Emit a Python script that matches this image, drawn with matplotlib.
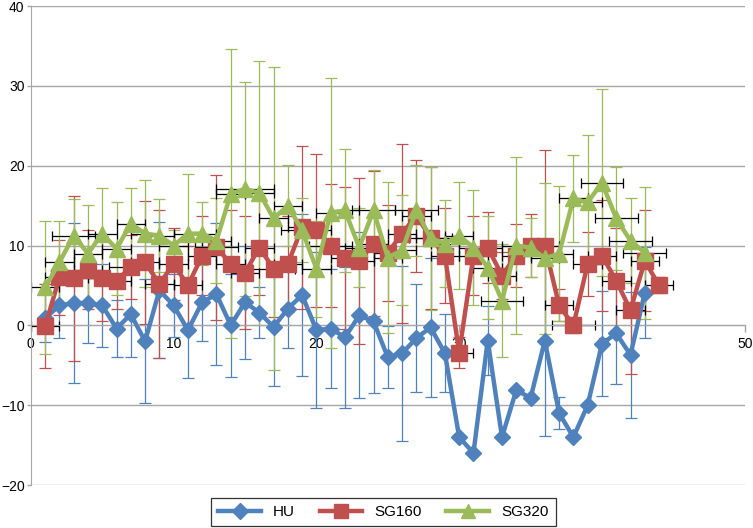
"""Mean values with error bars for HU, SG160 and SG320 (Excel-style chart)."""

import matplotlib

matplotlib.use("Agg")
import matplotlib.pyplot as plt
from matplotlib.lines import Line2D

plt.rcParams["font.family"] = ["Liberation Sans", "DejaVu Sans"]

# HU: points 1..43
HU_X = list(range(1, 44))
HU_Y = [0.9, 2.5, 2.8, 2.8, 2.5, -0.4, 1.4, -2.0, 4.4, 2.5,
        -0.6, 2.9, 3.9, 0.0, 2.9, 1.6, -0.2, 2.1, 3.8, -0.6,
        -0.4, -1.5, 1.25, 0.5, -4.0, -3.5, -1.6, -0.25, -3.5, -14.0,
        -16.0, -1.9, -14.0, -8.1, -9.1, -1.9, -11.0, -14.0, -10.0, -2.3,
        -1.0, -3.7, 4.1]
HU_YERR = [3.0, 4.1, 10.0, 5.0, 5.2, 3.6, 5.4, 7.75, 8.5, 4.0,
           6.0, 4.8, 8.9, 6.5, 7.1, 3.2, 7.4, 4.9, 10.2, 9.8,
           7.5, 8.8, 10.4, 9.0, 3.9, 11.0, 6.8, 8.75, 4.9, 0.0,
           0.0, 4.3, 0.0, 0.0, 0.0, 11.9, 2.0, 0.0, 0.0, 6.6,
           6.3, 7.9, 5.7]

# SG160: points 1..44
SG160_X = list(range(1, 45))
SG160_Y = [-0.1, 6.0, 5.9, 7.0, 5.9, 5.6, 7.3, 7.9, 5.2, 7.7,
           5.0, 8.75, 9.8, 7.7, 6.6, 9.75, 7.1, 7.7, 12.3, 11.9,
           10.0, 8.4, 8.1, 10.25, 9.1, 11.5, 13.75, 11.0, 8.75, -3.4,
           8.75, 9.75, 6.25, 8.75, 10.0, 10.0, 2.5, 0.0, 7.7, 8.75,
           5.6, 1.9, 8.1, 5.0]
SG160_YERR = [5.3, 4.75, 10.3, 4.9, 5.3, 3.5, 4.0, 7.7, 9.3, 4.5,
              5.0, 5.0, 9.1, 6.7, 7.1, 6.0, 6.0, 6.0, 10.2, 9.6,
              7.75, 8.9, 10.4, 9.1, 6.0, 11.2, 7.0, 8.9, 6.0, 2.0,
              5.0, 4.4, 3.0, 4.0, 4.0, 12.0, 2.0, 1.0, 4.0, 6.9,
              6.6, 8.0, 6.3, 1.0]
SG160_XERR = [1.0, 1.0, 1.5, 1.0, 1.0, 1.0, 1.5, 1.0, 1.0, 1.0,
              1.0, 1.0, 1.5, 1.0, 1.0, 1.0, 1.5, 1.0, 1.0, 1.0,
              1.5, 1.0, 1.0, 1.0, 1.0, 1.0, 1.0, 1.5, 1.0, 1.0,
              1.0, 1.0, 1.0, 1.0, 1.0, 1.0, 1.0, 1.5, 1.0, 1.0,
              1.0, 1.0, 1.0, 1.0]

# SG320: points 1..43
SG320_X = list(range(1, 44))
SG320_Y = [4.75, 7.9, 11.25, 9.0, 11.5, 9.6, 12.75, 11.5, 11.25, 10.0,
           11.5, 11.5, 10.6, 16.5, 17.1, 16.6, 13.4, 15.0, 11.9, 7.1,
           14.1, 14.4, 9.75, 14.4, 8.5, 9.4, 14.4, 10.9, 10.25, 11.25,
           9.75, 7.25, 3.1, 10.0, 9.75, 8.4, 9.0, 15.9, 15.4, 17.9,
           13.4, 10.6, 9.1]
SG320_YERR = [8.3, 5.2, 4.6, 6.1, 5.7, 5.8, 4.5, 6.75, 4.6, 2.0,
              7.5, 3.9, 5.3, 18.1, 13.4, 16.5, 19.0, 5.1, 4.0, 6.0,
              16.9, 7.7, 5.0, 5.1, 9.5, 6.9, 5.7, 9.0, 5.4, 6.75,
              7.25, 6.5, 7.1, 11.1, 3.7, 9.5, 8.5, 5.5, 8.4, 11.7,
              6.4, 5.3, 8.3]
SG320_XERR = [1.0, 1.0, 1.5, 1.0, 1.0, 1.0, 1.0, 1.0, 1.0, 1.0,
              1.0, 1.0, 1.0, 1.0, 2.0, 1.0, 1.0, 1.0, 1.5, 1.0,
              1.0, 1.0, 1.0, 1.5, 1.0, 1.0, 1.5, 1.0, 1.0, 1.0,
              1.0, 1.0, 1.5, 1.0, 1.0, 1.0, 1.0, 1.0, 1.0, 1.5,
              1.5, 1.5, 1.5]

BLUE = "#4F81BD"
RED = "#C0504D"
GREEN = "#9BBB59"

fig = plt.figure(figsize=(7.53, 5.28), dpi=100)
ax = fig.add_axes([0.041, 0.0814, 0.948, 0.907])

# error bars behind the lines
ax.errorbar(HU_X, HU_Y, yerr=HU_YERR, fmt="none", ecolor=BLUE,
            elinewidth=0.9, capsize=4, capthick=0.9, zorder=2)
ax.errorbar(SG160_X, SG160_Y, yerr=SG160_YERR, fmt="none", ecolor=RED,
            elinewidth=0.9, capsize=4, capthick=0.9, zorder=2)
ax.errorbar(SG320_X, SG320_Y, yerr=SG320_YERR, fmt="none", ecolor=GREEN,
            elinewidth=0.9, capsize=4, capthick=0.9, zorder=2)
ax.errorbar(SG160_X, SG160_Y, xerr=SG160_XERR, fmt="none", ecolor="black",
            elinewidth=0.9, capsize=3.5, capthick=0.9, zorder=2.5)
ax.errorbar(SG320_X, SG320_Y, xerr=SG320_XERR, fmt="none", ecolor="black",
            elinewidth=0.9, capsize=3.5, capthick=0.9, zorder=2.5)

ax.plot(HU_X, HU_Y, color=BLUE, lw=3.2, marker="D", ms=8.5,
        mec=BLUE, mfc=BLUE, zorder=3)
ax.plot(SG160_X, SG160_Y, color=RED, lw=3.2, marker="s", ms=11,
        mec=RED, mfc=RED, zorder=3.1)
ax.plot(SG320_X, SG320_Y, color=GREEN, lw=3.2, marker="^", ms=12,
        mec=GREEN, mfc=GREEN, zorder=3.2)

ax.set_xlim(0, 50)
ax.set_ylim(-20, 40)
ax.set_xticks(range(0, 51, 10))
ax.set_yticks(range(-20, 41, 10))
ax.yaxis.grid(True, color="#A6A6A6", lw=1.0)
ax.set_axisbelow(True)

for side in ("top", "right"):
    ax.spines[side].set_visible(False)
ax.spines["left"].set_color("#A6A6A6")
ax.spines["bottom"].set_color("#A6A6A6")
ax.spines["bottom"].set_position(("data", 0))
ax.tick_params(axis="both", colors="#A6A6A6", labelcolor="black",
               labelsize=10, width=1, direction="out")
ax.tick_params(axis="x", length=5)
ax.tick_params(axis="y", length=3, pad=1.5)

handles = [
    Line2D([], [], color=BLUE, lw=3.2, marker="D", ms=8, mfc=BLUE, mec=BLUE),
    Line2D([], [], color=RED, lw=3.2, marker="s", ms=10, mfc=RED, mec=RED),
    Line2D([], [], color=GREEN, lw=3.2, marker="^", ms=10, mfc=GREEN, mec=GREEN),
]
leg = ax.legend(handles, ["HU", "SG160", "SG320"], loc="upper center",
                bbox_to_anchor=(0.494, -0.012), ncol=3, fontsize=11,
                frameon=True, fancybox=False, handlelength=2.8,
                columnspacing=1.6, borderpad=0.45)
leg.get_frame().set_edgecolor("black")
leg.get_frame().set_linewidth(0.9)

fig.savefig("out.png", dpi=100)
